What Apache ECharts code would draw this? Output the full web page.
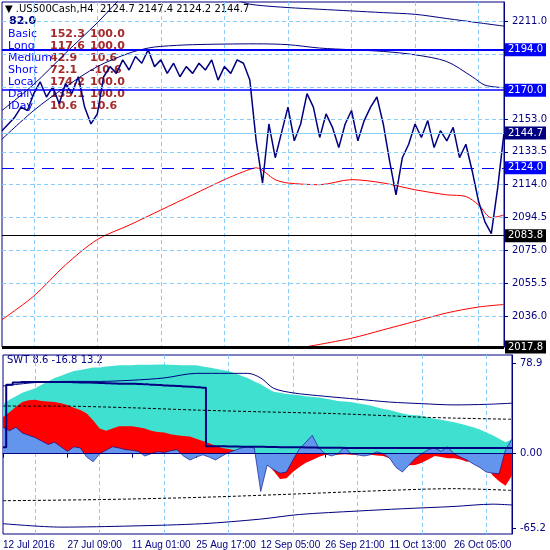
<!DOCTYPE html>
<html><head><meta charset="utf-8">
<script src="https://cdn.jsdelivr.net/npm/echarts@6/dist/echarts.min.js"></script>
<style>html,body{margin:0;padding:0;background:#fff}#main{width:550px;height:550px}</style>
</head><body><div id="main"></div>
<script>
// tick labels of the time axis, one every 10 points
var tickLabels = ['12 Jul 2016', '27 Jul 09:00', '11 Aug 01:00', '25 Aug 17:00', '12 Sep 05:00', '26 Sep 21:00', '11 Oct 13:00', '26 Oct 05:00'];
var priceTicks = [2211.0, 2191.5, 2172.0, 2153.0, 2133.5, 2114.0, 2094.5, 2075.0, 2055.5, 2036.0];

// close prices (80 points)
var price = [2146,2150,2154,2160,2158,2168,2175,2166,2172,2162,2174,2168,2178,2160,2150,2156,2178,2184,2180,2188,
  2182,2190,2186,2194,2184,2188,2180,2186,2178,2184,2180,2186,2182,2188,2176,2184,2180,2188,2186,2176,
  2140,2115,2150,2130,2145,2160,2140,2150,2168,2160,2142,2156,2148,2136,2150,2158,2140,2152,2160,2166,
  2150,2128,2108,2130,2138,2150,2142,2152,2136,2146,2140,2148,2130,2138,2122,2104,2092,2085,2112,2144.7];
// [index, value] pairs for the smooth indicator lines
var maFast = [[0,2034],[5,2048],[10,2066.5],[15,2081.5],[20,2090],[25,2099],[30,2108],[35,2117],[38,2121.7],[40,2124],[43,2117],[45,2115],[50,2114],[55,2117],[60,2115],[65,2111],[70,2108],[73,2107],[75,2102],[77,2094.5],[79,2096]];
var maSlow = [[48,2018],[55,2023],[60,2028],[65,2033],[70,2038],[75,2041.5],[79,2043]];
var envUpper = [[0,2158],[5,2173.5],[10,2192],[15,2210],[20,2229],[25,2240],[30,2238],[35,2228],[38,2222],[40,2220.5],[45,2219],[50,2218],[55,2217],[60,2216],[65,2215],[70,2212.5],[75,2210],[79,2208]];
var envMid = [[0,2141],[5,2158],[10,2172],[15,2184],[20,2192],[23,2195],[25,2196],[30,2197],[40,2197.5],[45,2197],[50,2195],[55,2194],[60,2193],[65,2191],[70,2187],[74,2178],[76,2173],[79,2171.5]];
var levels = [
  {v: 2194.0, c: '#0000ff', w: 2, t: 'solid'},
  {v: 2170.0, c: '#0000ff', w: 1.5, t: 'solid'},
  {v: 2144.7, c: '#87cefa', w: 1, t: 'solid', box: '#000080'},
  {v: 2124.0, c: '#0000ff', w: 1, t: [12, 8], box: '#0000ff'},
  {v: 2083.8, c: '#000000', w: 1, t: 'solid'},
  {v: 2017.8, c: '#000000', w: 3, t: 'solid'}
];

// SWT sub panel
var swtTurq = [43,47,50,53,55,57,60,63,66,68,70,72,73,74,75,75,76,76.5,77,77,77,77.5,77.5,77.5,77.7,77.7,77.5,77.3,77,77,
  77,76,75,74,73,72,70,68,66,63,60.6,57,54,53,52,51.5,51,50,49.5,49,48,47,46,45.5,45,44,43,42,40.5,39,
  38,36.5,35,34,33.5,33,31.5,30.5,29.5,28.5,27.5,26,24.5,23,21,18.5,16,13,10,12.5];
var swtRed = [32,36,41,45,46.5,47,46,45.5,45,44,42.5,40,38,35,29,22,20,22,24,24,24,23,22,20,19,18.5,17,16,15.5,15,
  13,11,9,7,5,4,3,2.5,1.5,0,-1,-8,-15,-22,-21.5,-16,-11.5,-8,-5.5,-3,-1,-0.5,-1,-0.5,-1,-1,-0.5,-1,-1.5,-2,
  -4,-8,-13,-10,-9.8,-8,-5,-2,-3,-4,-4,-5,-7,-6,-5,-10,-19,-24,-28,-19];
var swtBlue = [23,20,23,18,16,14,11,8,10,6,2,6,5,-3,-7,0,3,6,5,3.5,3,2,-2,0,1.6,1,2.5,3.5,-2,-5.5,
  -3,-1,-3,-5.5,-2,1,3,5,6,5,-33,-10,-14,-17,-16,-5.5,4,10,16,5,0,-2,0,6,0,-1,-2,-1,1.6,0,
  -4,-12,-16,-10,-4,0,3.5,5,2,6,0,-3,-5.5,-9,-12,-16,-17,-17.5,3.5,12.7];
var swtStep = [5.5,60,62,62.5,62.5,62.5,62.5,62.5,62.5,62.5,62.5,62.3,62,62,61.8,61.6,61.4,61.2,61,61,61,60.7,60.4,60.1,59.8,59.5,59.2,58.9,58.6,58.3,
  58,57.5,6.5,6.5,6.4,6.3,6.2,6.1,6,6,6,5.9,5.8,5.7,5.6,5.5,5.5,5.4,5.3,5.2,5.2,5.1,5.1,5,5,5,5,5,5,5,
  5,5,5,5,5,5,5,5,5,5,5,5,5,5,5,5,5,5,5,5];
var swtUpper = [[0,59],[5,62],[10,63],[15,63],[20,64],[25,66],[30,70],[35,70],[38,70],[40,66],[42,57],[45,53],[50,50],[55,47.5],[60,45],[65,43.6],[70,42.5],[75,43],[79,44]];
var swtDashUp = [[0,41.5],[8,41.5],[20,40],[30,38],[40,36.5],[51,35],[60,33],[64,32],[70,31],[79,30]];
var swtDashLo = [[0,-41],[15,-40],[31,-38],[46,-35],[55,-33],[65,-31],[70,-30.5],[79,-32]];
var swtLower = [[0,-61],[9,-64],[20,-63],[31,-61],[40,-57],[46,-53],[55,-50],[62,-48],[70,-46],[76,-44],[79,-44.7]];

var cats = price.map(function (p, i) { return i % 10 === 0 ? tickLabels[i / 10] : ''; });
var gridEvery = function (i) { return i % 10 === 5; };
var font = 'DejaVu Sans';
var navy = '#000080';

var myChart = echarts.init(document.getElementById('main'));

function thin(name, data, color, xi, yi, extra) {
    var s = {name: name, type: 'line', xAxisIndex: xi, yAxisIndex: yi, data: data, symbol: 'none',
        smooth: 0.3, lineStyle: {color: color, width: 1}, silent: true, z: 3};
    for (var k in extra) s[k] = extra[k];
    return s;
}

var priceMarks = priceTicks.map(function (v) {
    return {yAxis: v, lineStyle: {color: '#87cefa', type: [4, 3], width: 1}, label: {show: false}};
}).concat(levels.map(function (l) {
    return {yAxis: l.v, lineStyle: {color: l.c, width: l.w, type: l.t},
        label: {show: true, position: 'end', distance: 1, formatter: l.v.toFixed(1), color: '#fff',
            backgroundColor: l.box || l.c, padding: [2, 3, 1, 3], fontFamily: font, fontSize: 10}};
}));

// left-top info block
var rows = [['Basic', '152.3', '100.0'], ['Long', '117.6', '100.0'], ['Medium', '42.9', '10.6'],
    ['Short', '72.1', '-10.6'], ['Local', '174.2', '100.0'], ['Daily', '135.1', '100.0'], ['IDay', '10.6', '10.6']];
var graphics = [
    {type: 'text', left: 5, top: 4, style: {text: '▼ .US500Cash,H4  2124.7 2147.4 2124.2 2144.7', font: '10px ' + font, fill: '#000'}},
    {type: 'text', left: 9, top: 16, style: {text: '82.0', font: 'bold 11px ' + font, fill: navy}},
    {type: 'text', left: 7, top: 355, style: {text: 'SWT 8.6 -16.8 13.2', font: '10px ' + font, fill: navy}}
];
rows.forEach(function (r, i) {
    var y = 29 + i * 12;
    graphics.push({type: 'text', left: 8, top: y, style: {text: r[0], font: '11px ' + font, fill: '#0000ff'}});
    graphics.push({type: 'text', left: 50, top: y, style: {text: r[1], font: 'bold 11px ' + font, fill: '#a52a2a'}});
    graphics.push({type: 'text', left: 90, top: y, style: {text: r[2], font: 'bold 11px ' + font, fill: '#a52a2a'}});
});

var option = {
    backgroundColor: '#fff',
    animation: false,
    graphic: graphics,
    grid: [
        {left: 2, right: 38, top: 2, height: 345, show: true, borderColor: navy, borderWidth: 1},
        {left: 2, right: 38, top: 355, height: 184, show: true, borderColor: navy, borderWidth: 1}
    ],
    xAxis: [
        {type: 'category', gridIndex: 0, data: cats, boundaryGap: false, axisLabel: {show: false},
            axisTick: {show: false}, axisLine: {show: false},
            splitLine: {show: true, interval: gridEvery, lineStyle: {color: '#87cefa', type: [4, 3]}}},
        {type: 'category', gridIndex: 1, data: cats, boundaryGap: false,
            axisLine: {show: true, lineStyle: {color: navy}},
            axisTick: {show: true, interval: function (i) { return i % 10 === 0; }, length: 4, lineStyle: {color: navy}},
            axisLabel: {interval: function (i) { return i % 10 === 0; }, align: 'left', margin: 6, hideOverlap: false,
                color: navy, fontFamily: 'Liberation Sans', fontSize: 10},
            splitLine: {show: true, interval: gridEvery, lineStyle: {color: '#87cefa', type: [4, 3]}}}
    ],
    yAxis: [
        {type: 'value', gridIndex: 0, position: 'right', min: 2017.8, max: 2222.3, splitLine: {show: false},
            axisLine: {show: true, lineStyle: {color: navy}},
            axisTick: {show: true, length: 4, customValues: [2211.0, 2153.0, 2133.5, 2114.0, 2094.5, 2075.0, 2055.5, 2036.0]},
            axisLabel: {customValues: [2211.0, 2153.0, 2133.5, 2114.0, 2094.5, 2075.0, 2055.5, 2036.0],
                formatter: function (v) { return v.toFixed(1); }, color: navy, fontFamily: font, fontSize: 10, margin: 8}},
        {type: 'value', gridIndex: 1, position: 'right', min: -70, max: 86, splitLine: {show: false},
            axisLine: {show: true, lineStyle: {color: navy}},
            axisTick: {show: true, length: 4, customValues: [78.9, 0, -65.2]},
            axisLabel: {customValues: [78.9, 0, -65.2], formatter: function (v) { return v === 0 ? '0.00' : v.toFixed(1); },
                color: navy, fontFamily: font, fontSize: 10, margin: 8}}
    ],
    series: [
        thin('envUpper', envUpper, navy, 0, 0),
        thin('envMid', envMid, navy, 0, 0),
        thin('maFast', maFast, '#ff0000', 0, 0),
        thin('maSlow', maSlow, '#ff0000', 0, 0),
        {name: 'price', type: 'line', data: price, symbol: 'none', silent: true, z: 4,
            lineStyle: {color: navy, width: 1.5},
            markLine: {silent: true, symbol: 'none', animation: false, data: priceMarks}},
        {name: 'SWT base', type: 'line', xAxisIndex: 1, yAxisIndex: 1, data: swtTurq, symbol: 'none', silent: true,
            lineStyle: {width: 0}, areaStyle: {color: '#40e0d0', opacity: 1}, z: 1},
        {name: 'SWT red', type: 'line', xAxisIndex: 1, yAxisIndex: 1, data: swtRed, symbol: 'none', silent: true,
            lineStyle: {width: 0}, areaStyle: {color: '#ff0000', opacity: 1}, z: 2},
        {name: 'SWT blue', type: 'line', xAxisIndex: 1, yAxisIndex: 1, data: swtBlue, symbol: 'none', silent: true,
            lineStyle: {color: navy, width: 0.6}, areaStyle: {color: '#6495ed', opacity: 1}, z: 3,
            markLine: {silent: true, symbol: 'none', label: {show: false}, data: [{yAxis: 0}], lineStyle: {color: navy, width: 1, type: 'solid'}}},
        {name: 'SWT step', type: 'line', xAxisIndex: 1, yAxisIndex: 1, data: swtStep, symbol: 'none', silent: true,
            step: 'middle', lineStyle: {color: navy, width: 2}, z: 5},
        thin('swtUpper', swtUpper, navy, 1, 1, {z: 4}),
        thin('swtLower', swtLower, navy, 1, 1, {z: 4}),
        thin('swtDashUp', swtDashUp, '#000', 1, 1, {z: 4, lineStyle: {color: '#000', width: 1, type: [3, 2]}}),
        thin('swtDashLo', swtDashLo, '#000', 1, 1, {z: 4, lineStyle: {color: '#000', width: 1, type: [3, 2]}})
    ]
};

myChart.setOption(option);
</script>
</body></html>
